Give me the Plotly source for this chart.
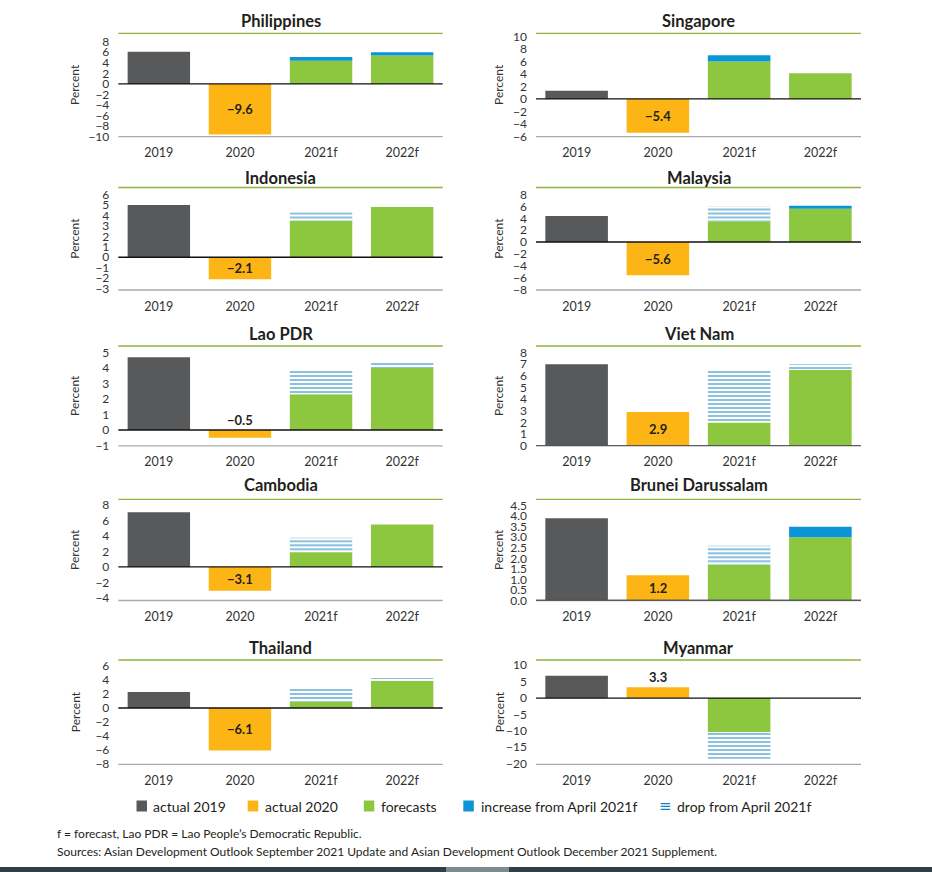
import plotly.graph_objects as go

# ---------------- data ----------------
categories = ["2019", "2020", "2021f", "2022f"]
countries = ["Philippines", "Singapore", "Indonesia", "Malaysia", "Lao PDR",
             "Viet Nam", "Cambodia", "Brunei Darussalam", "Thailand", "Myanmar"]
actual_2019 = [6.1, 1.3, 5.0, 4.4, 4.7, 7.0, 7.1, 3.9, 2.3, 6.8]
actual_2020 = [-9.6, -5.4, -2.1, -5.6, -0.5, 2.9, -3.1, 1.2, -6.1, 3.3]
forecast_2021 = [4.4, 6.0, 3.5, 3.5, 2.3, 2.0, 1.9, 1.7, 0.9, -10.4]
forecast_2022 = [5.4, 4.1, 4.8, 5.6, 4.0, 6.5, 5.5, 3.0, 3.9, None]
increase_2021 = [0.7, 1.0, None, None, None, None, None, None, None, None]
increase_2022 = [0.6, None, None, 0.5, None, None, None, 0.5, None, None]
drop_2021 = [None, None, 0.8, 2.5, 1.6, 4.6, 1.9, 0.9, 1.9, -8.1]
drop_2022 = [None, None, None, None, 0.4, 0.5, None, None, 0.4, None]

tick_min = [-10, -6, -3, -8, -1, 0, -4, 0.0, -8, -20]
tick_max = [8, 10, 6, 8, 5, 8, 8, 4.5, 6, 10]
tick_step = [2, 2, 1, 2, 1, 1, 2, 0.5, 2, 5]
y_ranges = [[-10, 9.6], [-6.05, 10.5], [-3.13, 6.67], [-8.1, 9.2], [-1.02, 5.42],
            [0, 8.57], [-4.35, 8.77], [0, 4.8], [-8.1, 6.9], [-20.2, 11.6]]

legend_names = ["actual 2019", "actual 2020", "forecasts",
                "increase from April 2021f", "drop from April 2021f"]

# ---------------- style ----------------
W, H = 932, 872
C_2019 = "#58595b"
C_2020 = "#fdb515"
C_FC = "#8dc63f"
C_INC = "#0a96d6"
C_DROP = "#1384c0"
C_TOPLINE = "#8fb53e"
C_TXT = "#231f20"
FONT = "Lato"
legend_colors = [C_2019, C_2020, C_FC, C_INC, C_DROP]
legend_swatch_x = [136.5, 247.7, 363.8, 463.3, 660.0]
legend_text_x = [151.0, 262.5, 378.5, 478.5, 674.5]
legend_y = 806

col_x = [(118.3, 442.7), (536.0, 861.0)]
row_y = [(33.3, 136.7), (187.5, 290.0), (346.0, 445.8), (499.3, 600.5), (660.0, 764.3)]
title_y = [20.7, 177.7, 334.0, 485.0, 648.3]
percent_x = [75, 499]

fig = go.Figure()
layout = {}
shapes = []
annotations = []


def fmt(v):
    s = f"{abs(v):.1f}"
    return ("\u2212" + s) if v < 0 else s


for i, c in enumerate(countries):
    n = i + 1
    xa = "x" if n == 1 else f"x{n}"
    ya = "y" if n == 1 else f"y{n}"
    row, col = i // 2, i % 2
    x0, x1 = col_x[col]
    top, bot = row_y[row]

    series = [
        (0, ["2019"], [actual_2019[i]], dict(color=C_2019)),
        (1, ["2020"], [actual_2020[i]], dict(color=C_2020)),
        (2, ["2021f", "2022f"], [forecast_2021[i], forecast_2022[i]], dict(color=C_FC)),
        (3, ["2021f", "2022f"], [increase_2021[i], increase_2022[i]], dict(color=C_INC)),
        (4, ["2021f", "2022f"], [drop_2021[i], drop_2022[i]],
         dict(color="white", pattern=dict(shape="-", fgcolor=C_DROP, bgcolor="white",
                                           size=4, solidity=0.5, fillmode="overlay"))),
    ]
    for k, xs, ys, mk in series:
        if all(v is None for v in ys):
            continue
        fig.add_trace(go.Bar(
            x=xs, y=ys, xaxis=xa, yaxis=ya, name=legend_names[k],
            showlegend=False,
            marker=dict(line=dict(width=0), **mk), hoverinfo="x+y",
        ))

    xkey = "xaxis" if n == 1 else f"xaxis{n}"
    ykey = "yaxis" if n == 1 else f"yaxis{n}"
    layout[xkey] = dict(
        domain=[x0 / W, x1 / W], anchor=ya, type="category",
        categoryorder="array", categoryarray=categories, range=[-0.5, 3.5],
        showgrid=False, zeroline=False, showline=False, ticks="",
        tickfont=dict(family=FONT, size=12.5, color="#333333"),
        ticklabelstandoff=7,
    )
    tv = []
    t = tick_min[i]
    while t <= tick_max[i] + 1e-9:
        tv.append(round(t, 2))
        t += tick_step[i]
    layout[ykey] = dict(
        domain=[1 - bot / H, 1 - top / H], anchor=xa, range=y_ranges[i],
        tickmode="array", tickvals=tv,
        tickformat=".1f" if tick_step[i] < 1 else "d",
        showgrid=False, zeroline=False, showline=False, ticks="",
        tickfont=dict(family=FONT, size=12, color="#333333"),
        ticklabelstandoff=8,
    )
    # frame lines
    shapes.append(dict(type="line", xref=f"{xa} domain", yref=f"{ya} domain",
                       x0=0, x1=1, y0=1, y1=1, line=dict(color=C_TOPLINE, width=1.3)))
    shapes.append(dict(type="line", xref=f"{xa} domain", yref=f"{ya} domain",
                       x0=0, x1=1, y0=0, y1=0, line=dict(color="#a7a9ac", width=1.3)))
    shapes.append(dict(type="line", xref=f"{xa} domain", yref=ya,
                       x0=0, x1=1, y0=0, y1=0, line=dict(color="#111111", width=1.3)))
    # title
    annotations.append(dict(text=f"<b>{c}</b>", xref="paper", yref="paper",
                            x=((x0 + x1) / 2) / W, y=1 - title_y[row] / H,
                            xanchor="center", yanchor="middle", showarrow=False,
                            font=dict(family=FONT, size=16.5, color=C_TXT)))
    # y title
    annotations.append(dict(text="Percent", xref="paper", yref="paper",
                            x=percent_x[col] / W, y=1 - ((top + bot) / 2) / H,
                            xanchor="center", yanchor="middle", textangle=-90,
                            showarrow=False,
                            font=dict(family=FONT, size=12, color="#333333")))
    # 2020 value label
    v = actual_2020[i]
    xi = categories.index("2020")
    span = y_ranges[i][1] - y_ranges[i][0]
    if abs(v) / span > 0.15:
        annotations.append(dict(text=f"<b>{fmt(v)}</b>", xref=xa, yref=ya, x=xi,
                                y=v / 2, xanchor="center", yanchor="middle",
                                showarrow=False,
                                font=dict(family=FONT, size=13, color=C_TXT)))
    else:
        annotations.append(dict(text=f"<b>{fmt(v)}</b>", xref=xa, yref=ya, x=xi,
                                y=max(v, 0), xanchor="center", yanchor="bottom",
                                yshift=0, showarrow=False,
                                font=dict(family=FONT, size=13, color=C_TXT)))

# legend (drawn as key swatches + labels)
for k, name in enumerate(legend_names):
    if k < 4:
        sx = legend_swatch_x[k]
        shapes.append(dict(type="rect", xref="paper", yref="paper",
                           x0=sx / W, x1=(sx + 10.5) / W,
                           y0=1 - (legend_y + 5.5) / H, y1=1 - (legend_y - 5.5) / H,
                           fillcolor=legend_colors[k], line=dict(width=0)))
    else:
        annotations.append(dict(text="\u2261", xref="paper", yref="paper",
                                x=(legend_swatch_x[k] + 5) / W, y=1 - legend_y / H,
                                xanchor="center", yanchor="middle", showarrow=False,
                                font=dict(family="DejaVu Sans", size=15, color=C_DROP)))
    annotations.append(dict(text=name, xref="paper", yref="paper",
                            x=legend_text_x[k] / W, y=1 - legend_y / H,
                            xanchor="left", yanchor="middle", showarrow=False,
                            font=dict(family=FONT, size=14, color=C_TXT)))

# footnotes
annotations.append(dict(text="f = forecast, Lao PDR = Lao People\u2019s Democratic Republic.",
                        xref="paper", yref="paper", x=55 / W, y=1 - 833 / H,
                        xanchor="left", yanchor="middle", showarrow=False,
                        font=dict(family=FONT, size=12, color=C_TXT)))
annotations.append(dict(text="Sources: Asian Development Outlook September 2021 Update and "
                             "Asian Development Outlook December 2021 Supplement.",
                        xref="paper", yref="paper", x=55 / W, y=1 - 851 / H,
                        xanchor="left", yanchor="middle", showarrow=False,
                        font=dict(family=FONT, size=12, color=C_TXT)))

# bottom page band
shapes.append(dict(type="rect", xref="paper", yref="paper", x0=0, x1=1,
                   y0=0, y1=5 / H, fillcolor="#2f3e44", line=dict(width=0), layer="above"))
shapes.append(dict(type="rect", xref="paper", yref="paper", x0=446 / W, x1=509 / W,
                   y0=0, y1=5 / H, fillcolor="#7d8a8f", line=dict(width=0), layer="above"))

fig.update_layout(
    width=W, height=H, margin=dict(l=0, r=0, t=0, b=0, autoexpand=False),
    paper_bgcolor="white", plot_bgcolor="white",
    barmode="relative", bargap=0.23,
    showlegend=False,
    shapes=shapes, annotations=annotations,
    **layout,
)

fig.write_html("out.html")
